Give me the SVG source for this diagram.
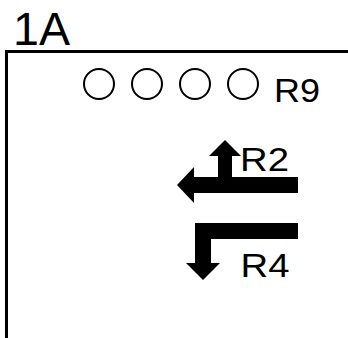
<svg xmlns="http://www.w3.org/2000/svg" width="348" height="338" viewBox="0 0 348 338">
  <style>
    .lbl { font-family: "Liberation Sans", Arial, sans-serif; fill: #000; }
    .frame { fill: none; stroke: #000; stroke-width: 3; }
    .lamp { fill: none; stroke: #000; stroke-width: 2; }
    .arrow { fill: #000; stroke: none; }
  </style>
  <rect width="348" height="338" fill="#fff"/>
  <g id="title">
    <text class="lbl" x="13" y="45" font-size="46" textLength="57" lengthAdjust="spacingAndGlyphs">1A</text>
  </g>
  <g id="frame">
    <path class="frame" d="M6.5,338 V51.5 H348"/>
  </g>
  <g id="R9">
    <circle class="lamp" cx="99" cy="84" r="15"/>
    <circle class="lamp" cx="147" cy="84" r="15"/>
    <circle class="lamp" cx="195" cy="84" r="15"/>
    <circle class="lamp" cx="243" cy="84" r="15"/>
    <text class="lbl" x="274" y="102" font-size="33" textLength="46" lengthAdjust="spacingAndGlyphs">R9</text>
  </g>
  <g id="R2">
    <polygon class="arrow" points="298,177 232,177 232,156 241,156 225,140 209,156 218,156 218,177 194,177 194,167 177,185 194,203 194,193 298,193"/>
    <text class="lbl" x="240" y="171" font-size="33" textLength="49" lengthAdjust="spacingAndGlyphs">R2</text>
  </g>
  <g id="R4">
    <polygon class="arrow" points="298,223 195,223 195,263 186,263 203,280 220,263 211,263 211,239 298,239"/>
    <text class="lbl" x="240.5" y="277" font-size="34" textLength="49" lengthAdjust="spacingAndGlyphs">R4</text>
  </g>
</svg>
